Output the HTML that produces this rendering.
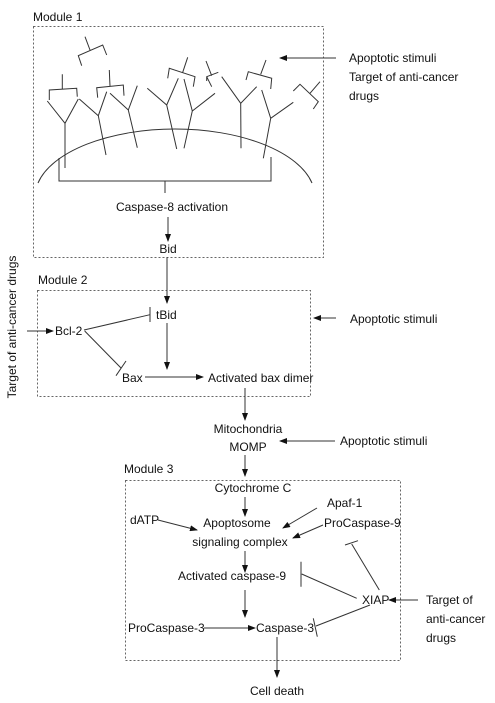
<!DOCTYPE html>
<html><head><meta charset="utf-8"><style>
html,body{margin:0;padding:0;background:#fff;}
svg{display:block;}
text{font-family:"Liberation Sans",sans-serif;font-size:12px;fill:#111;}
</style></head><body>
<svg width="495" height="703" viewBox="0 0 495 703" xmlns="http://www.w3.org/2000/svg">
<defs>
<marker id="a" markerWidth="8" markerHeight="6" refX="7" refY="3" orient="auto" markerUnits="userSpaceOnUse">
<path d="M0,0 L8,3 L0,6 Z" fill="#111"/></marker>
</defs>
<g fill="none" stroke="#666" stroke-width="1" stroke-dasharray="2,2">
<rect x="33.5" y="26.5" width="290" height="231"/>
<rect x="37.5" y="290.5" width="273" height="106"/>
<rect x="125.5" y="480.5" width="275" height="180"/>
</g>
<text x="33" y="21">Module 1</text>
<text x="38" y="284">Module 2</text>
<text x="124" y="473">Module 3</text>

<g stroke="#333" stroke-width="1" fill="none">
<!-- membrane -->
<path d="M38,183 A140,68 0 0 1 312,183"/>
<!-- receptors -->
<path d="M47.3,101 L65,123.3 L78.3,99 M65,123.3 L65,168"/>
<path d="M49.3,100 L49.3,90 L76.7,88.3 L77.3,96.7 M62.3,89 L62.3,74.3"/>
<path d="M79.3,99 L98.3,115.7 L106.7,91.7 M98.3,115.7 L106,155"/>
<path d="M97.7,97.7 L96.7,87.7 L123.3,85 L124,95.7 M110,86.3 L109.3,70"/>
<path d="M110,93.3 L128.3,110 L137.3,85.7 M128.3,110 L137.3,147.7"/>
<path d="M81.7,65.7 L78.3,55.7 L102.7,45 L106.7,55 M90,50 L85,36.7"/>
<path d="M147.3,88.3 L166.7,105 L178.3,78.3 M166.7,105 L176.7,149"/>
<path d="M167.7,78.3 L169.3,68.3 L195,76.7 L193.3,86.7 M182.7,72.3 L187.7,57.3"/>
<path d="M215,93.3 L192.3,111 L184,79 M192.3,111 L184,148.3"/>
<path d="M206,61 L211.7,75.7 M206.7,81 L206.7,76.7 L218.3,72.3 M206.7,76.7 L211.7,86.7"/>
<path d="M221.7,76.7 L240.7,103.3 L256.7,86.7 M240.7,103.3 L241,148.3"/>
<path d="M246,80 L248.3,71.7 L271.7,78.3 L270.7,89 M260.7,74.3 L266,60"/>
<path d="M261.7,90 L270.7,118.3 L293.3,102.3 M270.7,118.3 L263.3,158.3"/>
<path d="M293.3,91 L300,84.3 L318.3,101.7 L313.3,109 M310,93.3 L320,81.7"/>
<!-- bracket -->
<path d="M59,158 L59,181 L271,181 L271,157 M165,181 L165,193"/>
</g>
<text x="172" y="211" text-anchor="middle">Caspase-8 activation</text>
<text x="168" y="253" text-anchor="middle">Bid</text>

<g stroke="#333" stroke-width="1" fill="none">
<line x1="168" y1="217" x2="168" y2="241" marker-end="url(#a)"/>
<line x1="336" y1="58" x2="280" y2="58" marker-end="url(#a)"/>
<line x1="167" y1="257" x2="167" y2="303" marker-end="url(#a)"/>
<line x1="167" y1="323" x2="167" y2="369" marker-end="url(#a)"/>
<line x1="27" y1="331" x2="53" y2="331" marker-end="url(#a)"/>
<line x1="84" y1="330" x2="150" y2="314.7"/>
<line x1="150" y1="307" x2="150" y2="322"/>
<line x1="84.7" y1="331" x2="121" y2="368"/>
<line x1="116" y1="375.7" x2="126" y2="361"/>
<line x1="145" y1="377" x2="203" y2="377" marker-end="url(#a)"/>
<line x1="336" y1="318" x2="314" y2="318" marker-end="url(#a)"/>
<line x1="245" y1="388" x2="245" y2="420" marker-end="url(#a)"/>
<line x1="335" y1="441" x2="280" y2="441" marker-end="url(#a)"/>
<line x1="245" y1="455" x2="245" y2="476" marker-end="url(#a)"/>
<line x1="245" y1="497" x2="245" y2="516" marker-end="url(#a)"/>
<line x1="158" y1="520" x2="197" y2="530" marker-end="url(#a)"/>
<line x1="317" y1="508" x2="283" y2="528" marker-end="url(#a)"/>
<line x1="323" y1="525" x2="293" y2="538" marker-end="url(#a)"/>
<line x1="245" y1="551" x2="245" y2="572" marker-end="url(#a)"/>
<line x1="245" y1="590" x2="245" y2="617" marker-end="url(#a)"/>
<line x1="204" y1="628" x2="255" y2="628" marker-end="url(#a)"/>
<line x1="277" y1="637" x2="277" y2="677" marker-end="url(#a)"/>
<line x1="418" y1="600" x2="389" y2="600" marker-end="url(#a)"/>
<line x1="379.3" y1="590" x2="351.7" y2="544"/>
<line x1="345" y1="545" x2="358" y2="540.7"/>
<line x1="356.7" y1="598.3" x2="301.7" y2="574"/>
<line x1="301" y1="561.7" x2="301" y2="586.7"/>
<line x1="370" y1="605" x2="316" y2="626"/>
<line x1="313.3" y1="618.3" x2="317.3" y2="636.7"/>
</g>

<text x="349" y="62">Apoptotic stimuli</text>
<text x="349" y="81">Target of anti-cancer</text>
<text x="349" y="100">drugs</text>
<text transform="translate(16,327) rotate(-90)" text-anchor="middle">Target of anti-cancer drugs</text>
<text x="55" y="335">Bcl-2</text>
<text x="156" y="319">tBid</text>
<text x="122" y="382">Bax</text>
<text x="208" y="382">Activated bax dimer</text>
<text x="350" y="323">Apoptotic stimuli</text>
<text x="248" y="433" text-anchor="middle">Mitochondria</text>
<text x="248" y="451" text-anchor="middle">MOMP</text>
<text x="340" y="445">Apoptotic stimuli</text>
<text x="253" y="492" text-anchor="middle">Cytochrome C</text>
<text x="327" y="507">Apaf-1</text>
<text x="130" y="524">dATP</text>
<text x="237" y="527" text-anchor="middle">Apoptosome</text>
<text x="324" y="527">ProCaspase-9</text>
<text x="240" y="546" text-anchor="middle">signaling complex</text>
<text x="232" y="580" text-anchor="middle">Activated caspase-9</text>
<text x="362" y="604">XIAP</text>
<text x="426" y="604">Target of</text>
<text x="426" y="623">anti-cancer</text>
<text x="426" y="642">drugs</text>
<text x="128" y="632">ProCaspase-3</text>
<text x="256" y="632">Caspase-3</text>
<text x="277" y="695" text-anchor="middle">Cell death</text>
</svg>
</body></html>
